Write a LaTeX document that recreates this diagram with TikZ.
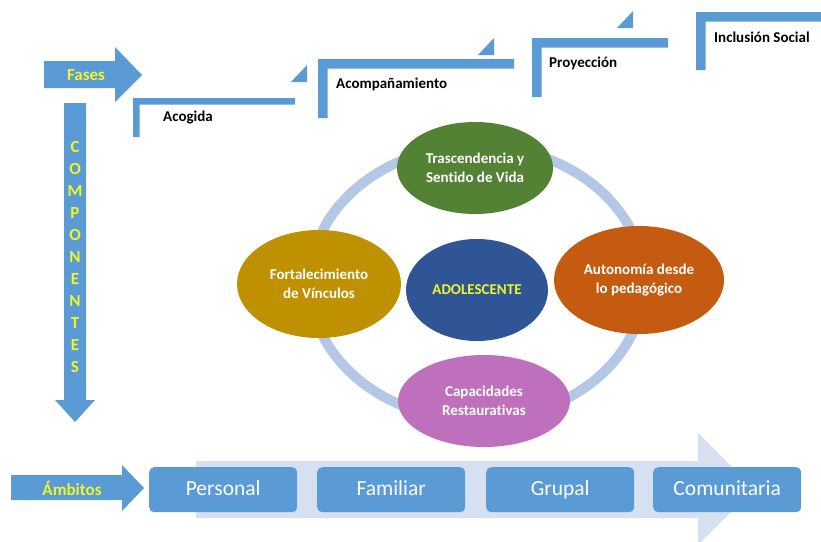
\documentclass[tikz,border=0pt]{standalone}
\usepackage{fontspec}
\setmainfont{Carlito}[Ligatures=NoCommon]
\usetikzlibrary{shapes.geometric}
\definecolor{azul}{RGB}{91,155,213}
\definecolor{claro}{RGB}{214,224,240}
\definecolor{anillo}{RGB}{180,199,231}
\definecolor{verde}{RGB}{84,130,53}
\definecolor{oro}{RGB}{191,144,0}
\definecolor{naranja}{RGB}{197,90,17}
\definecolor{morado}{RGB}{191,112,189}
\definecolor{azulosc}{RGB}{47,85,151}
\definecolor{amarillo}{RGB}{240,245,40}
\tikzset{
	fase/.style={anchor=west,inner sep=0,font=\bfseries\fontsize{15}{17}\selectfont},
	comp/.style={ellipse,inner sep=0,align=center,text=white,font=\bfseries\fontsize{15}{19}\selectfont},
	ambito/.style={anchor=north west,rounded corners=5pt,fill=azul,text=white,inner xsep=2pt,
		text height=15pt,text depth=4pt,minimum width=148pt,minimum height=45pt,font=\fontsize{21.5}{24}\selectfont},
	rotulo/.style={inner sep=0,text=amarillo,font=\bfseries\fontsize{17}{19}\selectfont}
}
\begin{document}
\begin{tikzpicture}[x=1pt,y=-1pt]
	\useasboundingbox (0,0) rectangle (821,541);
	% flechas de fases, componentes y ambitos
	\fill[azul] (44,61)--(115,61)--(115,47)--(142,75)--(115,102)--(115,88)--(44,88)--cycle;
	\fill[azul] (64,103)--(86,103)--(86,400)--(95,400)--(75,422)--(55,400)--(64,400)--cycle;
	\fill[azul] (11,475)--(122,475)--(122,465)--(144,488)--(122,511)--(122,500)--(11,500)--cycle;
	\fill[claro] (196,461)--(698,461)--(698,433)--(754,489)--(698,545)--(698,518)--(196,518)--cycle;
	\node[rotulo] (fases) at (86,75) {Fases};
	\node[rotulo] (ambitos) at (72,488) {Ámbitos};
	\foreach \l [count=\i from 0] in {C,O,M,P,O,N,E,N,T,E,S}
	\node[rotulo] (c\i) at (75,147+22*\i) {\l};
	% escalones de las fases
	\foreach \x/\y/\l/\v/\t/\lx/\ly/\texto [count=\i] in
	{133/98/295/137/6.5/163/118/Acogida,318/59/514/118/9.5/336/84/Acompañamiento,
		532/38/668/97/9.5/549/63/Proyección,696/12/830/70/9.5/714/37/Inclusión Social}
	{\fill[azul] (\x,\y)--(\l,\y)--(\l,\y+\t)--(\x+\t,\y+\t)--(\x+\t,\v)--(\x,\v)--cycle;
		\node[fase] (f\i) at (\lx,\ly) {\texto};}
	\foreach \x/\y in {291/82,478/55,617/28}% triangulos
	\fill[azul] (\x,\y)--(\x+16,\y)--(\x+16,\y-17)--cycle;
	% componentes
	\draw[anillo,line width=10pt] (477,283) ellipse [x radius=167pt,y radius=137pt];
	\node[comp,fill=verde,minimum width=156pt,minimum height=92pt] (trasc) at (475,168) {Trascendencia y\\Sentido de Vida};
	\node[comp,fill=oro,minimum width=164pt,minimum height=108pt] (fort) at (319,284) {Fortalecimiento\\de Vínculos};
	\node[comp,fill=naranja,minimum width=170pt,minimum height=108pt] (auto) at (639,280) {Autonomía desde\\lo pedagógico};
	\node[comp,fill=morado,minimum width=172pt,minimum height=92pt] (capac) at (484,401) {Capacidades\\Restaurativas};
	\node[comp,fill=azulosc,text=amarillo,minimum width=142pt,minimum height=102pt] (adol) at (477,290) {ADOLESCENTE};
	% ambitos
	\foreach \x/\t [count=\i] in {149/Personal,317/Familiar,486/Grupal,653/Comunitaria}
	\node[ambito] (a\i) at (\x,467) {\t};
\end{tikzpicture}
\end{document}
